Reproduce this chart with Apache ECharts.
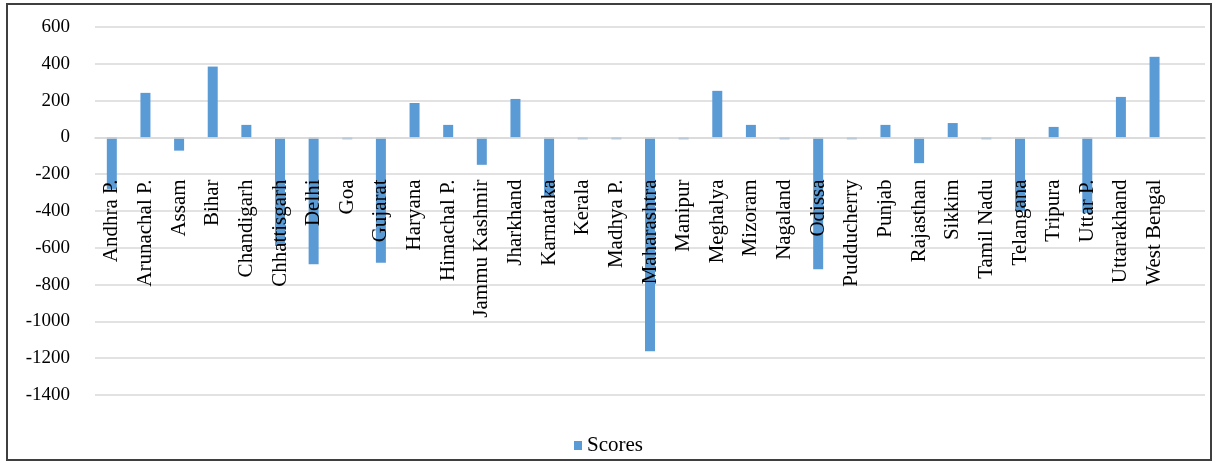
<!DOCTYPE html>
<html>
<head>
<meta charset="utf-8">
<script src="https://cdn.jsdelivr.net/npm/echarts@6/dist/echarts.min.js"></script>
<style>
  html, body { margin: 0; padding: 0; background: #fff; }
  #chart01 { width: 1217px; height: 463px; }
</style>
</head>
<body>
<div id="chart01"></div>
<script>
// states (last slot is the empty category Excel leaves at the end)
var states = ["Andhra P.", "Arunachal P.", "Assam", "Bihar", "Chandigarh", "Chhattisgarh", "Delhi", "Goa",
    "Gujarat", "Haryana", "Himachal P.", "Jammu Kashmir", "Jharkhand", "Karnataka", "Kerala", "Madhya P.",
    "Maharashtra", "Manipur", "Meghalya", "Mizoram", "Nagaland", "Odissa", "Pudducherry", "Punjab",
    "Rajasthan", "Sikkim", "Tamil Nadu", "Telangana", "Tripura", "Uttar P.", "Uttarakhand", "West Bengal", ""];
var scores = [-280, 242, -72, 385, 68, -590, -690, -10,
    -681, 187, 68, -149, 209, -320, -10, -10,
    -1162, -10, 253, 68, -10, -717, -10, 68,
    -140, 78, -10, -400, 57, -410, 220, 438, null];
var yTicks = { min: -1400, max: 600, step: 200 };

var gridTop = 27, gridBottom = 68, chartHeight = 463;
var gridHeight = chartHeight - gridTop - gridBottom;
// category axis sits on the zero line, labels hang below it
var zeroOffset = -gridHeight * (0 - yTicks.min) / (yTicks.max - yTicks.min);

var myChart01 = echarts.init(document.getElementById('chart01'));
var font = "'Liberation Serif', 'Times New Roman', serif";
var option = {
    animation: false,
    graphic: [
        {
            type: "rect",
            shape: { x: 7, y: 4, width: 1204, height: 456 },
            style: { fill: "none", stroke: "#3f3f3f", lineWidth: 2 },
            z: 100
        }
    ],
    legend: {
        data: ["Scores"],
        left: "center",
        top: 430,
        icon: "rect",
        itemWidth: 8,
        itemHeight: 9,
        itemGap: 5,
        textStyle: { fontFamily: font, fontSize: 21, color: "#000" }
    },
    grid: {
        left: 95,
        right: 12,
        top: gridTop,
        bottom: gridBottom,
        containLabel: false,
        outerBoundsMode: "none"
    },
    xAxis: [
        {
            type: "category",
            data: states,
            z: 10,
            offset: zeroOffset,
            axisLine: { onZero: false, lineStyle: { color: "#d9d9d9", width: 1.5 } },
            axisTick: { show: false },
            axisLabel: {
                interval: 0,
                rotate: 90,
                margin: 42,
                fontFamily: font,
                fontSize: 21,
                color: "#000"
            },
            splitLine: { show: false }
        }
    ],
    yAxis: [
        {
            type: "value",
            min: yTicks.min,
            max: yTicks.max,
            interval: yTicks.step,
            axisLine: { show: false },
            axisTick: { show: false },
            axisLabel: {
                margin: 25,
                fontFamily: font,
                fontSize: 19,
                color: "#000",
                formatter: function (v) { return String(v); }
            },
            splitLine: { lineStyle: { color: "#d9d9d9", width: 1.5 } }
        }
    ],
    series: [
        {
            name: "Scores",
            type: "bar",
            data: scores,
            barWidth: 10,
            itemStyle: { color: "#5b9bd5" }
        }
    ]
};
myChart01.setOption(option);
</script>
</body>
</html>
